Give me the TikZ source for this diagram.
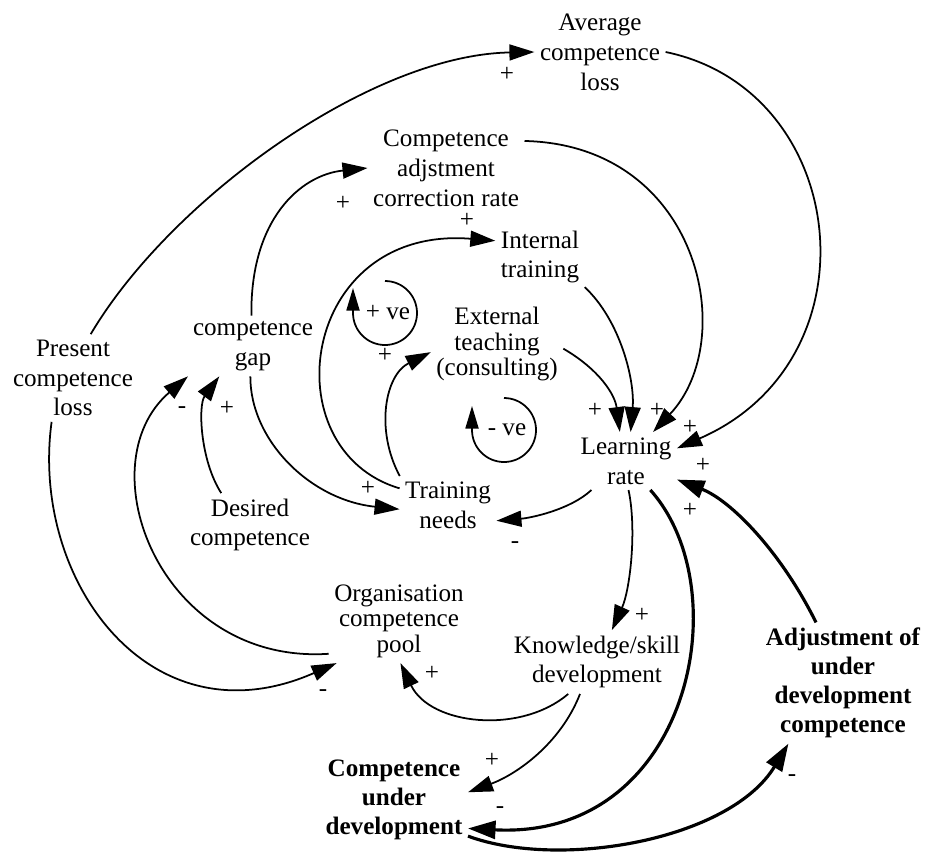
\documentclass[tikz,border=0pt]{standalone}
\usepackage{fontspec}
\setmainfont{Liberation Serif}
\usepackage{tikz}
\usetikzlibrary{arrows.meta}

\begin{document}
\begin{tikzpicture}[x=0.02cm, y=-0.02cm,
    font=\fontsize{14.3}{17}\selectfont,
    var/.style={align=center, inner sep=3pt},
    varsmall/.style={var, font=\fontsize{14.3}{14.5}\selectfont},
    stock/.style={var, font=\fontsize{14.3}{16.5}\selectfont\bfseries},
    link/.style={line width=1pt, -{Triangle[length=5mm, width=3.2mm]}},
    heavy/.style={line width=1.8pt, -{Triangle[length=5.5mm, width=3.6mm]}},
    cyclemark/.style={line width=1pt, -{Triangle[length=4.5mm, width=2.6mm]}}]
    \useasboundingbox (0,0) rectangle (925,856);
    % variables
    \node[var] (avg) at (600,52) {Average\\competence\\loss};
    \node[var] (cadj) at (446,168) {Competence\\adjstment\\correction rate};
    \node[var] (intr) at (540,257) {Internal\\training};
    \node[varsmall] (ext) at (497,344) {External\\teaching\\(consulting)};
    \node[var] (gap) at (253,346) {competence\\gap};
    \node[var] (plos) at (73,378) {Present\\competence\\loss};
    \node[var] (des) at (250,525) {Desired\\competence};
    \node[var] (tn) at (448,505) {Training\\needs};
    \node[var] (lr) at (626,461) {Learning\\rate};
    \node[varsmall] (pool) at (399,621) {Organisation\\competence\\pool};
    \node[var] (ksd) at (597,662) {Knowledge/skill\\development};
    \node[stock] (cud) at (394,800) {Competence\\under\\development};
    \node[stock] (adj) at (843,683) {Adjustment of\\under\\development\\competence};

    % links
    \draw[link] (plos.68) .. controls (170,200) and (370,55) .. (avg.west);
    \draw[link] (avg.east) .. controls (850,90) and (880,360) .. (lr.14);
    \draw[link] (cadj.19) .. controls (700,145) and (740,340) .. (lr.47);
    \draw[link] (gap.93) .. controls (250,220) and (300,175) .. (cadj.west);
    \draw[link] (gap.-95) .. controls (250,440) and (310,500) .. (tn.185);
    \draw[link] (des.132) .. controls (200,460) and (198,405) .. (gap.-138);
    \draw[link] (tn.161) .. controls (270,450) and (300,225) .. (intr.160);
    \draw[link] (tn.149) .. controls (375,430) and (385,375) .. (ext.-173);
    \draw[link] (intr.-34) .. controls (620,320) and (635,380) .. (lr.81);
    \draw[link] (ext.-4) .. controls (600,370) and (615,395) .. (lr.102);
    \draw[link] (lr.-140) .. controls (570,510) and (530,518) .. (tn.-18);
    \draw[link] (lr.-85) .. controls (637,530) and (630,590) .. (ksd.65);
    \draw[link] (ksd.-132) .. controls (520,735) and (430,725) .. (pool.-88);
    \draw[link] (ksd.-118) .. controls (560,745) and (515,775) .. (cud.6);
    \draw[link] (pool.-155) .. controls (160,665) and (85,465) .. (gap.-155);
    \draw[link] (plos.-116) .. controls (30,580) and (150,745) .. (pool.-146);
    \draw[heavy] (lr.-50) .. controls (740,590) and (690,840) .. (cud.-21);
    \draw[heavy] (cud.-26) .. controls (560,870) and (730,840) .. (adj.-132);
    \draw[heavy] (adj.114) .. controls (780,550) and (730,500) .. (lr.-20);

    % loop markers
    \draw[cyclemark] (385,281) arc[start angle=-90, end angle=180, radius=32] -- ++(0,-25);
    \node (pve) at (388,313) {+ ve};
    \draw[cyclemark] (504,398) arc[start angle=-90, end angle=180, radius=32] -- ++(0,-24);
    \node (nve) at (507,430) {- ve};

    % polarity signs
    \foreach \x/\y/\sg [count=\i] in {507/74/+, 343/203/+, 467/220/+, 385/355/+,
        368/488/+, 595/410/+, 657/410/+, 690/427/+, 703/465/+, 690/510/+,
        515/545/-, 642/615/+, 432/673/+, 323/693/-, 492/760/+, 500/810/-,
        792/778/-, 182/410/-, 227/408/+}
      \node (sign\i) at (\x,\y) {\sg};
\end{tikzpicture}
\end{document}
